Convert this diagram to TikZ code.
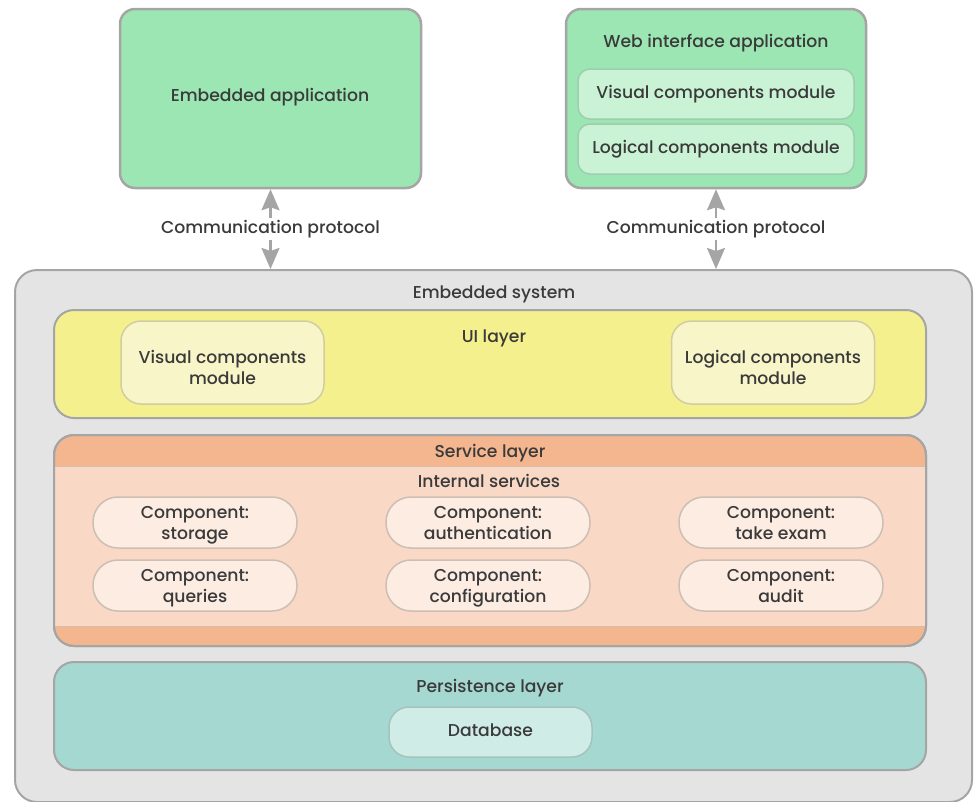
\documentclass[tikz,border=0pt]{standalone}
\usepackage{fontspec}
\setmainfont{Poppins}[UprightFont={* Medium}]
\usetikzlibrary{arrows.meta}
\definecolor{txt}{RGB}{58,58,58}
\definecolor{bord}{RGB}{165,165,165}
\definecolor{grn}{RGB}{155,230,178}
\definecolor{grnl}{RGB}{202,243,214}
\definecolor{grnb}{RGB}{160,205,175}
\definecolor{sysbg}{RGB}{228,228,228}
\definecolor{yel}{RGB}{245,240,142}
\definecolor{yell}{RGB}{248,245,200}
\definecolor{yelb}{RGB}{210,205,160}
\definecolor{ord}{RGB}{243,182,142}
\definecolor{orl}{RGB}{249,217,197}
\definecolor{orc}{RGB}{252,236,226}
\definecolor{orb}{RGB}{205,190,180}
\definecolor{teal}{RGB}{164,216,208}
\definecolor{teall}{RGB}{208,236,231}
\definecolor{tealb}{RGB}{165,195,190}
\tikzset{
  x=1pt,y=-1pt,
  every node/.style={text=txt,font=\fontsize{17.2}{20.5}\selectfont},
  oneline/.style={text height=12pt,text depth=3.5pt},
  appbox/.style={draw=bord,line width=2.5pt,fill=grn,rounded corners=15pt,inner sep=0pt},
  webmod/.style={oneline,draw=grnb,line width=1.5pt,fill=grnl,rounded corners=12pt,minimum width=276pt,minimum height=50pt,inner sep=0pt},
  layerbox/.style={draw=bord,line width=2pt,rounded corners=20pt,inner sep=0pt,minimum width=872pt},
  uimod/.style={draw=yelb,line width=1.5pt,fill=yell,rounded corners=20pt,minimum width=203pt,minimum height=83pt,inner sep=0pt},
  comp/.style={draw=orb,line width=1.5pt,fill=orc,rounded corners=25pt,minimum width=204pt,minimum height=51pt,inner sep=0pt},
  twoline/.style={align=center,inner sep=0pt,execute at begin node=\strut,execute at end node=\strut},
  conn/.style={draw=bord,line width=2.5pt,{Stealth[width=18pt,length=21pt,inset=3pt]}-{Stealth[width=18pt,length=21pt,inset=3pt]}},
  plain/.style={oneline,inner sep=0pt}
}
\begin{document}
\begin{tikzpicture}
\useasboundingbox (0,0) rectangle (975,801);
% top apps
\node[appbox,minimum width=301pt,minimum height=179pt] (ea) at (270.5,98.5) {};
\node[plain] (eat) at (270,97) {Embedded application};
\node[appbox,minimum width=300pt,minimum height=179pt] (wa) at (716,98.5) {};
\node[plain] (wat) at (716,43) {Web interface application};
\node[webmod] (wv) at (716,94) {Visual components module};
\node[webmod] (wl) at (716,149) {Logical components module};
% embedded system
\node[draw=bord,line width=2pt,fill=sysbg,rounded corners=22pt,minimum width=957pt,minimum height=532pt,inner sep=0pt] (es) at (493.5,536) {};
\node[plain] (est) at (494,294) {Embedded system};
% UI layer
\node[layerbox,fill=yel,minimum height=108pt] (ui) at (490,364) {};
\node[plain] (uit) at (494,338) {UI layer};
\node[uimod] (uiv) at (222.5,362.5) {};
\node[twoline] (uivt) at ([yshift=-8pt]uiv.center) {Visual components\\module};
\node[uimod] (uil) at (773,362.5) {};
\node[twoline] (uilt) at ([yshift=-8pt]uil.center) {Logical components\\module};
% Service layer
\node[layerbox,fill=ord,minimum height=211pt] (sl) at (490,540.5) {};
\fill[orl] (sl.west |- 0,466) rectangle (sl.east |- 0,626);
\draw[draw=orb!80!ord,line width=1pt] (sl.west |- 0,466) -- (sl.east |- 0,466);
\draw[draw=orb!80!ord,line width=1pt] (sl.west |- 0,626) -- (sl.east |- 0,626);
\node[layerbox,draw=bord,fill=none,minimum height=211pt] (slf) at (sl.center) {};
\node[plain] (slt) at (490,453) {Service layer};
\node[plain] (ist) at (489,483) {Internal services};
\node[comp] (c1) at (195,522.5) {};
\node[comp] (c2) at (488,522.5) {};
\node[comp] (c3) at (781,522.5) {};
\node[comp] (c4) at (195,585.5) {};
\node[comp] (c5) at (488,585.5) {};
\node[comp] (c6) at (781,585.5) {};
\node[twoline] (c1t) at ([yshift=-3.5pt]c1.center) {Component:\\storage};
\node[twoline] (c2t) at ([yshift=-3.5pt]c2.center) {Component:\\authentication};
\node[twoline] (c3t) at ([yshift=-3.5pt]c3.center) {Component:\\take exam};
\node[twoline] (c4t) at ([yshift=-3.5pt]c4.center) {Component:\\queries};
\node[twoline] (c5t) at ([yshift=-3.5pt]c5.center) {Component:\\configuration};
\node[twoline] (c6t) at ([yshift=-3.5pt]c6.center) {Component:\\audit};
% Persistence
\node[layerbox,fill=teal,minimum height=108pt] (pl) at (490,716) {};
\node[plain] (plt) at (490,688) {Persistence layer};
\node[oneline,draw=tealb,line width=1.5pt,fill=teall,rounded corners=20pt,minimum width=203pt,minimum height=50pt,inner sep=0pt] (db) at (490.5,732) {Database};
% connectors
\draw[conn] (ea.south) -- (ea.south |- es.north) node[midway,oneline,fill=white,inner sep=3pt] (cp1) {Communication protocol};
\draw[conn] (wa.south) -- (wa.south |- es.north) node[midway,oneline,fill=white,inner sep=3pt] (cp2) {Communication protocol};
\end{tikzpicture}
\end{document}
